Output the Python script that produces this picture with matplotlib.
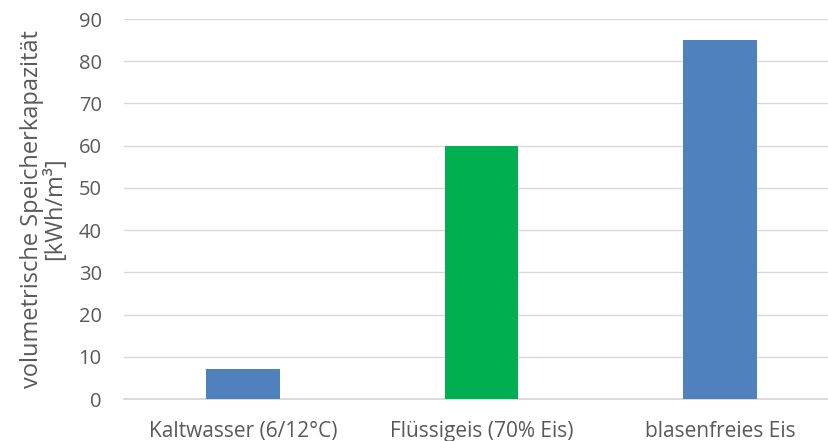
import matplotlib.pyplot as plt

categories = ["Kaltwasser (6/12°C)", "Flüssigeis (70% Eis)", "blasenfreies Eis"]
values = [7, 60, 85]
colors = ["#4F81BD", "#00B050", "#4F81BD"]
y_ticks = [0, 10, 20, 30, 40, 50, 60, 70, 80, 90]

plt.rcParams['font.family'] = ['Open Sans', 'DejaVu Sans']
text_col = "#595959"

fig = plt.figure(figsize=(8.29, 4.41), dpi=100)
ax = fig.add_axes([0.1496, 0.0952, 0.8625, 0.8617])

x = range(len(categories))
ax.bar(x, values, width=0.31, color=colors, zorder=3)

ax.set_xlim(-0.5, len(categories) - 0.5)
ax.set_ylim(0, 90)
ax.set_yticks(y_ticks)
ax.set_xticks(list(x))
ax.set_xticklabels(categories, fontsize=15)
ax.grid(axis='y', color="#D9D9D9", linewidth=1.0, zorder=0)
ax.tick_params(length=0, colors=text_col)
ax.tick_params(axis='y', labelsize=14.5, pad=16)
ax.tick_params(axis='x', pad=16)
for side in ['top', 'right', 'left']:
    ax.spines[side].set_visible(False)
ax.spines['bottom'].set_color("#D9D9D9")
ax.spines['bottom'].set_linewidth(1.3)

ax.set_ylabel("volumetrische Speicherkapazität\n[kWh/m³]", fontsize=17,
              color=text_col, linespacing=1.0, labelpad=8)

fig.savefig("out.png", dpi=100)
